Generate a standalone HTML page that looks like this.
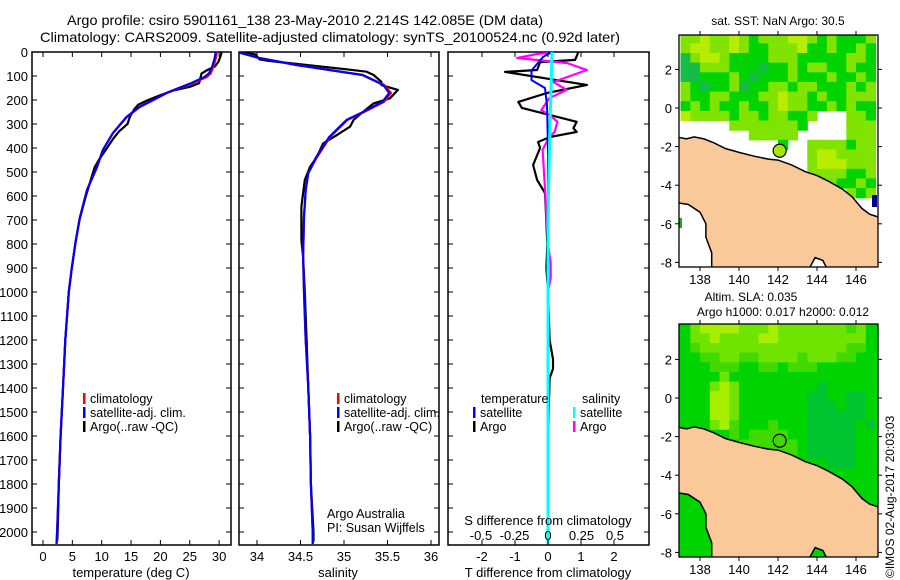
<!DOCTYPE html>
<html><head><meta charset="utf-8"><style>
html,body{margin:0;padding:0;background:#fff;}
svg{display:block;font-family:"Liberation Sans",sans-serif;}
</style></head><body>
<svg id="fig" width="900" height="580" viewBox="0 0 900 580" xmlns="http://www.w3.org/2000/svg">
<defs>
<clipPath id="c1"><rect x="32" y="52" width="199" height="493"/></clipPath>
<clipPath id="c2"><rect x="239" y="52" width="200" height="493"/></clipPath>
<clipPath id="c3"><rect x="448" y="52" width="201" height="493"/></clipPath>
<clipPath id="cm1"><rect x="679" y="35" width="199" height="232"/></clipPath>
<clipPath id="cm2"><rect x="679" y="324" width="199" height="233"/></clipPath>
</defs>
<text x="67" y="25" font-size="14" textLength="476" lengthAdjust="spacingAndGlyphs">Argo profile: csiro 5901161_138 23-May-2010 2.214S 142.085E (DM data)</text>
<text x="40" y="42" font-size="14" textLength="580" lengthAdjust="spacingAndGlyphs">Climatology: CARS2009. Satellite-adjusted climatology: synTS_20100524.nc (0.92d later)</text>
<g id="plots"></g>
<text x="778" y="25" font-size="12" text-anchor="middle">sat. SST: NaN Argo: 30.5</text>
<text x="751" y="301" font-size="12" text-anchor="middle">Altim. SLA: 0.035</text>
<text x="783" y="316" font-size="12" text-anchor="middle">Argo h1000: 0.017 h2000: 0.012</text>
<text font-size="12" transform="translate(894,578) rotate(-90)" x="0" y="0">©IMOS 02-Aug-2017 20:03:03</text>
</svg>
<script>
// ---- temperature panel data ----
const depthClimT = [0,4,30,62,88,104,129,150,171,200,229,271,338,408,479,575,688,783,900,1000,1200,1400,1600,1800,2000,2050];
const climT = [29.6,29.6,29.4,29.0,28.6,27.9,25.6,23.3,21.1,18.8,16.5,14.3,11.9,10.2,9.2,7.5,6.3,5.6,4.9,4.4,3.8,3.4,3.0,2.7,2.4,2.3];
const satT  = [29.4,29.4,29.2,28.8,28.3,27.5,25.3,23.1,21.0,18.7,16.4,14.2,11.9,10.2,9.2,7.5,6.3,5.6,4.9,4.4,3.8,3.4,3.0,2.7,2.4,2.3];
const depthArgoT = [0,5,20,40,60,75,90,110,130,145,160,180,200,220,240,270,300,330,360,400,450,480,520,600,700,800,900,1000,1200,1400,1600,1800,2000,2040];
const argoT = [30.3,30.4,30.2,29.9,29.3,28.0,27.0,26.8,26.6,25.0,22.3,20.0,17.9,16.2,15.5,14.8,14.4,13.0,12.0,10.9,9.5,8.8,8.3,7.3,6.2,5.5,4.9,4.4,3.8,3.4,3.0,2.7,2.5,2.4];
// ---- salinity panel data ----
const depthClimS = [0,4,25,54,75,96,137,171,208,250,283,354,438,504,575,688,854,1000,1200,1400,1600,1800,2000,2050];
const climS = [33.80,33.82,34.03,34.46,34.84,35.22,35.46,35.54,35.46,35.23,35.04,34.84,34.69,34.59,34.56,34.54,34.53,34.54,34.56,34.59,34.61,34.62,34.64,34.64];
const satS  = [33.80,33.81,34.02,34.45,34.83,35.21,35.45,35.52,35.44,35.22,35.03,34.83,34.68,34.59,34.56,34.54,34.53,34.54,34.56,34.59,34.61,34.62,34.64,34.64];
const depthArgoS = [0,10,31,36,54,72,82,96,124,138,158,193,214,249,283,311,346,381,436,478,533,644,783,854,1000,1200,1400,1600,1800,2000,2040];
const argoS = [33.80,33.98,34.03,34.11,34.57,35.03,35.26,35.34,35.43,35.43,35.62,35.53,35.34,35.22,35.11,35.07,34.92,34.76,34.69,34.61,34.55,34.51,34.51,34.53,34.55,34.57,34.59,34.61,34.62,34.65,34.65];
// ---- difference panel data ----
const depthDiffT = [0,4,33,42,75,83,137,171,208,233,291,318,333,354,375,400,471,533,588,671,800,900,1000,1200,1280,1320,1360,1500,1700,2000,2050];
const argoDiffT = [0.9,0.91,0.82,-0.24,-0.33,-1.3,1.18,-0.03,-0.9,-0.79,0.87,0.77,0.87,0.06,-0.3,-0.24,-0.45,-0.33,-0.09,-0.06,-0.02,-0.05,0.0,0.05,0.15,0.15,0.05,0.02,0.0,0.0,0.0];
const depthSatDiffT = [0,4,21,77,117,150,221,400,2050];
const satDiffT = [0.06,0.06,-0.15,-0.5,-0.5,-0.09,-0.03,0.0,0.0];
const depthDiffS = [0,4,8,25,46,75,125,158,192,242,262,290,333,354,408,588,800,880,940,1000,2050];
const argoDiffS = [0.0,0.01,-0.08,-0.23,0.14,0.29,0.04,0.14,0.01,-0.05,0.01,0.07,0.05,0.01,-0.04,-0.02,0.0,0.02,0.02,0.0,0.0];
const depthSatDiffS = [0,100,300,700,2050];
const satDiffS = [0.03,0.025,0.015,0.0,0.0];
// ---- axis ticks ----
const depthTicks = [0,100,200,300,400,500,600,700,800,900,1000,1100,1200,1300,1400,1500,1600,1700,1800,1900,2000];
const tempTicks = [0,5,10,15,20,25,30];
const salTicks = [34,34.5,35,35.5,36];
const salTickLabels = ["34","34.5","35","35.5","36"];
const tdiffTicks = [-2,-1,0,1,2];
const sdiffTicks = [-0.5,-0.25,0,0.25,0.5];
const sdiffTickLabels = ["-0.5","-0.25","0","0.25","0.5"];
const lonTicks = [138,140,142,144,146];
const latTicks = [2,0,-2,-4,-6,-8];
const floatLon = 142.085, floatLat = -2.214;

const NS="http://www.w3.org/2000/svg";
const root=document.getElementById('plots');
function el(tag,attrs,parent,text){const e=document.createElementNS(NS,tag);for(const k in attrs)e.setAttribute(k,attrs[k]);if(text!==undefined)e.textContent=text;(parent||root).appendChild(e);return e;}
const yD = d => 52 + d*0.24;
const xT = t => 43 + t*5.87;
const xS = s => 257 + (s-34)*87;
const xDT = t => 548 + t*33;
const xDS = s => 548 + s*134;

function panelFrame(x0,x1,name,clip){
  const g=el('g',{});
  
  
  const r=el('rect',{x:x0,y:52,width:x1-x0,height:493,fill:'#fff',stroke:'#000','stroke-width':1.5},g);
  
  
  depthTicks.forEach(d=>{
    el('line',{x1:x0,x2:x0+5,y1:yD(d),y2:yD(d),stroke:'#000'},g);
    el('line',{x1:x1-5,x2:x1,y1:yD(d),y2:yD(d),stroke:'#000'},g);
  });
  const pg=el('g',{'clip-path':'url(#'+clip+')'},g);
  return {g,pg};
}
function line(parent,xs,ds,fx,color,w,name){
  const pts=xs.map((v,i)=>fx(v).toFixed(1)+','+yD(ds[i]).toFixed(1)).join(' ');
  const p=el('polyline',{points:pts,fill:'none',stroke:color,'stroke-width':w,'stroke-linejoin':'round'},parent);
  
  
}
function legendBar(parent,x,y,color,label,name){
  const b=el('rect',{x:x,y:y-10,width:2.5,height:11,fill:color},parent);
  
  
  const t=el('text',{x:x+7,y:y,'font-size':12.5},parent,label);
  
  
}

depthTicks.forEach(d=>{
  const t=el('text',{x:28,y:yD(d)+5,'font-size':13,'text-anchor':'end'},root,String(d));
  
  
});

let P=panelFrame(32,231,'temperature-panel','c1');
tempTicks.forEach(t=>{
  el('line',{x1:xT(t),x2:xT(t),y1:545,y2:540,stroke:'#000'},P.g);
  el('line',{x1:xT(t),x2:xT(t),y1:52,y2:57,stroke:'#000'},P.g);
  const l=el('text',{x:xT(t),y:561,'font-size':13,'text-anchor':'middle'},P.g,String(t));
  
  
});
line(P.pg,argoT,depthArgoT,xT,'#000',2.2,'argo-temperature-line');
line(P.pg,climT,depthClimT,xT,'#f00',2.2,'climatology-temperature-line');
line(P.pg,satT,depthClimT,xT,'#00f',2.2,'satellite-temperature-line');
let t1=el('text',{x:131,y:577,'font-size':13,'text-anchor':'middle'},P.g,'temperature (deg C)');


legendBar(P.g,83,403,'#f00','climatology','legend-climatology');
legendBar(P.g,83,417,'#00f','satellite-adj. clim.','legend-satellite-adj');
legendBar(P.g,83,431,'#000','Argo(..raw -QC)','legend-argo');

P=panelFrame(239,439,'salinity-panel','c2');
salTicks.forEach((s,i)=>{
  el('line',{x1:xS(s),x2:xS(s),y1:545,y2:540,stroke:'#000'},P.g);
  el('line',{x1:xS(s),x2:xS(s),y1:52,y2:57,stroke:'#000'},P.g);
  const l=el('text',{x:xS(s),y:561,'font-size':13,'text-anchor':'middle'},P.g,salTickLabels[i]);
  
  
});
line(P.pg,argoS,depthArgoS,xS,'#000',2.2,'argo-salinity-line');
line(P.pg,climS,depthClimS,xS,'#f00',2.2,'climatology-salinity-line');
line(P.pg,satS,depthClimS,xS,'#00f',2.2,'satellite-salinity-line');
let t2=el('text',{x:338,y:577,'font-size':13,'text-anchor':'middle'},P.g,'salinity');


legendBar(P.g,337,403,'#f00','climatology','legend-climatology-2');
legendBar(P.g,337,417,'#00f','satellite-adj. clim.','legend-satellite-adj-2');
legendBar(P.g,337,431,'#000','Argo(..raw -QC)','legend-argo-2');
let a1=el('text',{x:327,y:518,'font-size':12.5},P.g,'Argo Australia');


let a2=el('text',{x:327,y:532,'font-size':12.5},P.g,'PI: Susan Wijffels');



P=panelFrame(448,649,'difference-panel','c3');
tdiffTicks.forEach(t=>{
  el('line',{x1:xDT(t),x2:xDT(t),y1:545,y2:540,stroke:'#000'},P.g);
  el('line',{x1:xDT(t),x2:xDT(t),y1:52,y2:57,stroke:'#000'},P.g);
  const l=el('text',{x:xDT(t),y:561,'font-size':13,'text-anchor':'middle'},P.g,String(t));
  
  
});
line(P.pg,argoDiffT,depthDiffT,xDT,'#000',2.2,'argo-tdiff-line');
line(P.pg,argoDiffS,depthDiffS,xDS,'#f0f',2.2,'argo-sdiff-line');
line(P.pg,satDiffT,depthSatDiffT,xDT,'#00f',2,'satellite-tdiff-line');
line(P.pg,satDiffS,depthSatDiffS,xDS,'#0ff',3,'satellite-sdiff-line');
sdiffTicks.forEach((s,i)=>{
  const l=el('text',{x:xDS(s),y:540,'font-size':13,'text-anchor':'middle'},P.g,sdiffTickLabels[i]);
  
  
});
let s1=el('text',{x:548,y:525,'font-size':13,'text-anchor':'middle'},P.g,'S difference from climatology');


let s2=el('text',{x:548,y:577,'font-size':13,'text-anchor':'middle'},P.g,'T difference from climatology');


let lt=el('text',{x:481,y:403,'font-size':12.5},P.g,'temperature');


let ls=el('text',{x:582,y:403,'font-size':12.5},P.g,'salinity');


legendBar(P.g,473,417,'#00f','satellite','legend-t-satellite');
legendBar(P.g,473,431,'#000','Argo','legend-t-argo');
legendBar(P.g,573,417,'#0ff','satellite','legend-s-satellite');
legendBar(P.g,573,431,'#f0f','Argo','legend-s-argo');

const COL={y:'#b8ec00',l:'#80e400',g:'#00d400',d:'#14bc48',m:'#40da00',L:'#6ee400',Y:'#a8ee00'};
const sstGrid=[
"llyllylglllyylglgggl","lyyllylgglllygglgglg","dlyylgggglllgggggllg","ddlllgggdgglgllgglgg",
"ddggglgdggglggglgglg","lgdggldggllgllggglgl","lggllgggllyllglgglll","glglgglgglyllgglglgg",
"yllllgllgllgglwwwllg","wwwwwlllllllgwwwwlll","wwwwwwwlllllwwwwwlll","wwwwwwwwwwgwwllllgll",
"wwwwwwwwwwwwwlyyllll","wwwwwwwwwwwwwlyyylll","wwwwwwwwwwwwwllllggl","wwwwwwwwwwwwwwwlgglg",
"wwwwwwwwwwwwwwwwwlgl"];
const slaGrid=[
"gLYYYYLLLYLLLLLLLmLg","gLLYLLLLYYLLLLLLLLLg","gmLLLLLLLLLLLLLLLmmg","ggmmLLmmLLLLmLLLmmgg",
"gggmmmggmmgmmmgggggg","ggggLggggggggggggggg","gggLYLggggggggdggggg","gggYYLgggggggddggddg",
"gggYYLgggggggdddgddg","gggYYLgggggggddddddg","gggLYmgggmgggdddddgd","gggggmgmmmmggdddddgg",
"ggggggmmmmmmgdddddgg","ggggggggmmmmgdddddgg","gggggggggggggggdddgg"];
const land=[[136.8,-1.5],[137.3,-1.6],[137.7,-1.5],[138.2,-1.6],[138.7,-1.8],[139.3,-2.1],[140,-2.3],[140.8,-2.5],[141.5,-2.65],[142,-2.7],[142.7,-2.95],[143.4,-3.3],[144,-3.5],[144.6,-3.8],[145.3,-4.2],[145.8,-4.6],[146.3,-5.2],[146.7,-5.5],[147.3,-5.7],[147.3,-8.5],[144.6,-8.5],[144.3,-7.9],[143.9,-7.75],[143.5,-8.5],[138.6,-8.5],[138.6,-7.5],[138.3,-6.7],[138.3,-6.0],[138,-5.4],[137.4,-5.0],[136.8,-4.9]];

function drawMap(top,bottom,lat0y,grid,base,clip,name,circleFill,dColor){
  const xL=l=>700+(l-138)*19.5, yL=a=>lat0y-a*19.3;
  const g=el('g',{});
  
  
  const inner=el('g',{'clip-path':'url(#'+clip+')'},g);
  el('rect',{x:679,y:top,width:199,height:bottom-top,fill:base},inner);
  grid.forEach((row,i)=>{
    for(let j=0;j<row.length;j++){
      const c=row[j]; if(c==='w')continue;
      const lo=137+0.5*j, la=3.85-0.5*i;
      el('rect',{x:xL(lo).toFixed(1),y:yL(la).toFixed(1),width:10.3,height:10.2,fill:(c==='d'&&dColor)?dColor:COL[c]},inner);
    }
  });
  const pts=land.map(p=>xL(p[0]).toFixed(1)+','+yL(p[1]).toFixed(1)).join(' ');
  const lp=el('polygon',{points:pts,fill:'#f9c999',stroke:'#000','stroke-width':1.5},inner);
  
  
  const c=el('circle',{cx:xL(floatLon),cy:yL(floatLat),r:6.5,fill:circleFill,stroke:'#000','stroke-width':1.2},inner);
  
  
  el('rect',{x:679,y:top,width:199,height:bottom-top,fill:'none',stroke:'#000','stroke-width':1.3},g);
  lonTicks.forEach(l=>{
    el('line',{x1:xL(l),x2:xL(l),y1:top-4,y2:top,stroke:'#000'},g);
    el('line',{x1:xL(l),x2:xL(l),y1:bottom,y2:bottom+4,stroke:'#000'},g);
    const t=el('text',{x:xL(l),y:bottom+17,'font-size':13,'text-anchor':'middle'},g,String(l));
    
    
  });
  latTicks.forEach(a=>{
    el('line',{x1:675,x2:679,y1:yL(a),y2:yL(a),stroke:'#000'},g);
    el('line',{x1:878,x2:882,y1:yL(a),y2:yL(a),stroke:'#000'},g);
    const t=el('text',{x:672,y:yL(a)+5,'font-size':13,'text-anchor':'end'},g,String(a));
    
    
  });
  return inner;
}
const m1=drawMap(35,267,108,sstGrid,'#fff','cm1','sst-map','#a8e800',null);
el('rect',{x:872,y:195,width:5,height:12,fill:'#000090'},m1);
el('rect',{x:679,y:218,width:3,height:10,fill:'#00c000'},m1);
drawMap(324,557,398,slaGrid,'#00d400','cm2','sla-map','none','#00c430');
</script>
</body></html>
